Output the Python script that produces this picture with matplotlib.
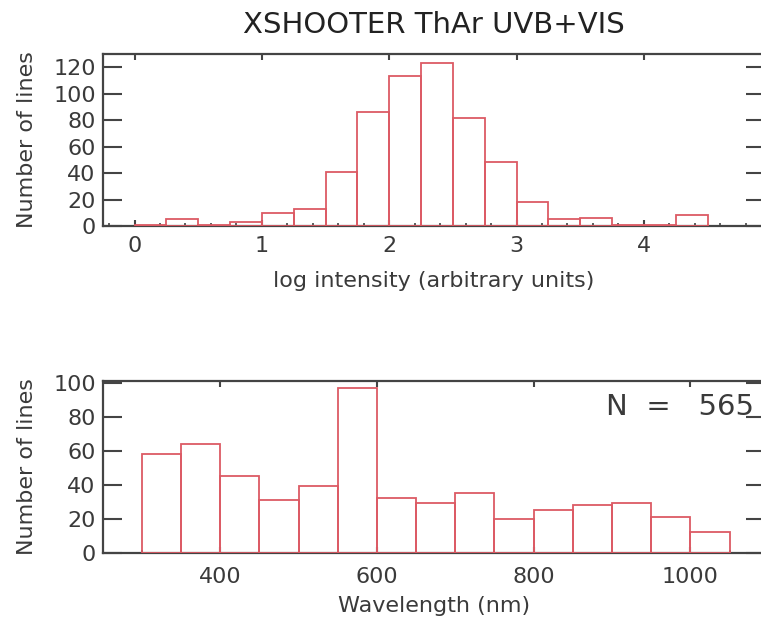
import numpy as np
import matplotlib
matplotlib.use("Agg")
import matplotlib.pyplot as plt
from matplotlib.ticker import MultipleLocator

# Histogram of log intensity (bin width 0.25, starting at 0)
int_edges = [0.0, 0.25, 0.5, 0.75, 1.0, 1.25, 1.5, 1.75, 2.0, 2.25,
             2.5, 2.75, 3.0, 3.25, 3.5, 3.75, 4.0, 4.25, 4.5]
int_counts = [1, 5, 1, 3, 10, 13, 41, 86, 113, 123, 82, 48, 18, 5, 6, 1, 1, 8]

# Histogram of wavelength (bin width 50 nm)
wave_edges = [300, 350, 400, 450, 500, 550, 600, 650, 700, 750,
              800, 850, 900, 950, 1000, 1050]
wave_counts = [58, 64, 45, 31, 39, 97, 32, 29, 35, 20, 25, 28, 29, 21, 12]

n_lines = 565
title = "XSHOOTER ThAr UVB+VIS"

bar_color = "#dc5a64"
text_color = "#3a3a3a"
axis_color = "#444444"

plt.rcParams['font.family'] = ['DejaVu Sans']


def draw_hist(ax, edges, counts):
    edges = np.asarray(edges, dtype=float)
    widths = np.diff(edges)
    ax.bar(edges[:-1], counts, width=widths, align='edge', fill=False,
           edgecolor=bar_color, linewidth=1.3, zorder=3)


def style_axes(ax, xmajor, xminor, ymajor, xpad):
    for sp in ax.spines.values():
        sp.set_color(axis_color)
        sp.set_linewidth(1.6)
    ax.xaxis.set_major_locator(MultipleLocator(xmajor))
    ax.xaxis.set_minor_locator(MultipleLocator(xminor))
    ax.yaxis.set_major_locator(MultipleLocator(ymajor))
    ax.tick_params(axis='x', which='major', direction='in', length=4, width=1.5,
                   top=True, color=axis_color, labelsize=16, labelcolor=text_color, pad=xpad)
    ax.tick_params(axis='x', which='minor', direction='in', length=2.5, width=1.2,
                   top=False, color=axis_color)
    ax.tick_params(axis='y', which='major', direction='in', length=14, width=1.5,
                   right=True, color=axis_color, labelsize=16, labelcolor=text_color, pad=5)
    ax.set_ylabel("Number of lines", fontsize=16, color=text_color)
    ax.yaxis.set_label_coords(-0.10, 0.5)


fig = plt.figure(figsize=(7.61, 6.25), dpi=100)

# top panel: log intensity
ax1 = fig.add_axes([0.135, 0.6384, 0.87, 0.2752])
draw_hist(ax1, int_edges, int_counts)
ax1.set_xlim(-0.25, 4.95)
ax1.set_ylim(0, 130)
style_axes(ax1, 1, 0.2, 20, 7)
ax1.set_xlabel("log intensity (arbitrary units)", fontsize=16, color=text_color, labelpad=11)
ax1.set_title(title, fontsize=21, color="#222222", pad=15)

# bottom panel: wavelength
ax2 = fig.add_axes([0.135, 0.1157, 0.87, 0.2747])
draw_hist(ax2, wave_edges, wave_counts)
ax2.set_xlim(250, 1095)
ax2.set_ylim(0, 101)
style_axes(ax2, 200, 50, 20, 10)
ax2.set_xlabel("Wavelength (nm)", fontsize=16, color=text_color, labelpad=7)
ax2.text(0.984, 0.85, "N  =   %d" % n_lines, transform=ax2.transAxes, ha='right',
         va='center', fontsize=21, color=text_color)

fig.savefig("out.png", dpi=100)
